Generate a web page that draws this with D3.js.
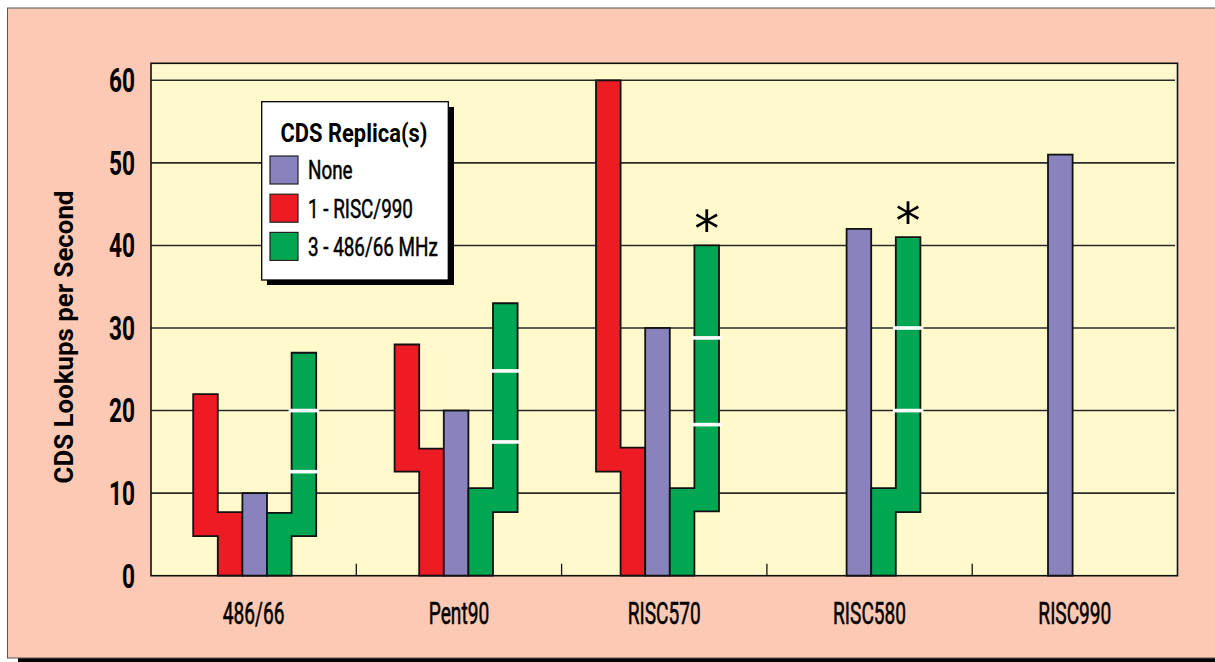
<!DOCTYPE html>
<html>
<head>
<meta charset="utf-8">
<script src="https://cdn.jsdelivr.net/npm/d3@7"></script>
<style>
  html, body { margin: 0; padding: 0; background: #ffffff; }
  svg { display: block; }
</style>
</head>
<body>
<svg id="chart" width="1215" height="662"></svg>
<script>
// ---------------- data ----------------
const categories = ["486/66", "Pent90", "RISC570", "RISC580", "RISC990"];
const yTicks = [0, 10, 20, 30, 40, 50, 60];

// "None" (no replica) — single purple bar
const noneValues = [10, 20, 30, 42, 51];

// "1 - RISC/990" — stepped red shape: upper floating bar [low, high] and lower bar height
const riscUpperLow  = [4.8, 12.6, 12.6, null, null];
const riscUpperHigh = [22, 28, 60, null, null];
const riscLowerHigh = [7.7, 15.4, 15.5, null, null];

// "3 - 486/66 MHz" — stepped green shape
const tripleLowerHigh = [7.6, 10.6, 10.6, 10.6, null];
const tripleUpperLow  = [4.8, 7.7, 7.8, 7.7, null];
const tripleUpperHigh = [27, 33, 40, 41, null];
// white divider marks inside the upper green bar
const tripleMarks = [[12.6, 20], [16.2, 24.8], [18.3, 28.8], [20, 30], []];
// asterisk annotations
const asteriskFlags = [false, false, true, true, false];

const legendTitle = "CDS Replica(s)";
const legendLabels = ["None", "1 - RISC/990", "3 - 486/66 MHz"];
const yAxisTitle = "CDS Lookups per Second";

// ---------------- styles ----------------
const C = {
  page: "#fbc9b4",
  plot: "#fff9cc",
  none: "#8883bd",
  risc: "#ed1c24",
  triple: "#00a651",
  ink: "#111111",
  grid: "#2a2a2a"
};
const FONT = "Roboto, 'Open Sans', sans-serif";

const svg = d3.select("#chart");

function measure(str, size, weight) {
  const t = svg.append("text").attr("font-family", FONT).attr("font-size", size)
    .attr("font-weight", weight).text(str);
  const w = t.node().getComputedTextLength();
  t.remove();
  return w;
}
function ctext(parent, x, y, str, o) {
  const g = parent.append("g")
    .attr("transform", `translate(${x},${y})${o.rotate ? ` rotate(${o.rotate})` : ""} scale(${o.k},1)`);
  return g.append("text")
    .attr("font-family", FONT).attr("font-size", o.size).attr("font-weight", o.weight || "normal")
    .attr("text-anchor", o.anchor || "start")
    .attr("dy", o.dy || 0)
    .attr("fill", "#000")
    .attr("stroke", o.stroke ? "#000" : null)
    .attr("stroke-width", o.stroke || null)
    .text(str);
}

// outer frame with shadow
svg.append("rect").attr("x", 18).attr("y", 12).attr("width", 1215).attr("height", 650).attr("fill", "#000");
svg.append("rect").attr("x", 7.5).attr("y", 8).attr("width", 1215).attr("height", 650)
  .attr("fill", C.page).attr("stroke", "#555").attr("stroke-width", 1);

// plot area
const plot = { left: 151, right: 1177.5, top: 63.3, bottom: 575.7 };
const y = d3.scaleLinear().domain([0, 60]).range([575.7, 80.3]);
const xAxis = d3.scaleBand().domain(categories).range([plot.left, plot.right]);
const xGroup = d3.scaleBand().domain(categories).range([154, 1161]);
const slot = d3.scaleBand().domain([0, 1, 2, 3, 4]).range([-61.5, 61.5]);
const sx = (cat, i) => xGroup(cat) + xGroup.bandwidth() / 2 + slot(i);
const sw = slot.bandwidth();

svg.append("rect")
  .attr("x", plot.left).attr("y", plot.top)
  .attr("width", plot.right - plot.left).attr("height", plot.bottom - plot.top)
  .attr("fill", C.plot);

// gridlines
svg.append("g").selectAll("line").data(yTicks.filter(d => d > 0)).join("line")
  .attr("x1", plot.left).attr("x2", plot.right - 2.5)
  .attr("y1", d => y(d)).attr("y2", d => y(d))
  .attr("stroke", C.grid).attr("stroke-width", 1.6);

// category separator ticks (band boundaries)
svg.append("g").selectAll("line").data(categories.slice(1)).join("line")
  .attr("x1", d => xAxis(d)).attr("x2", d => xAxis(d))
  .attr("y1", plot.bottom).attr("y2", plot.bottom - 12)
  .attr("stroke", C.ink).attr("stroke-width", 1.3);

const bars = svg.append("g").attr("stroke", C.ink).attr("stroke-width", 1.8).attr("stroke-linejoin", "miter");

categories.forEach((cat, i) => {
  if (riscUpperHigh[i] != null) {
    const x0 = sx(cat, 0), x1 = sx(cat, 1), x2 = x1 + sw;
    const p = d3.path();
    p.moveTo(x0, y(riscUpperHigh[i]));
    p.lineTo(x1, y(riscUpperHigh[i]));
    p.lineTo(x1, y(riscLowerHigh[i]));
    p.lineTo(x2, y(riscLowerHigh[i]));
    p.lineTo(x2, y(0));
    p.lineTo(x1, y(0));
    p.lineTo(x1, y(riscUpperLow[i]));
    p.lineTo(x0, y(riscUpperLow[i]));
    p.closePath();
    bars.append("path").attr("d", p.toString()).attr("fill", C.risc);
  }
  if (noneValues[i] != null) {
    bars.append("rect")
      .attr("x", sx(cat, 2)).attr("width", sw)
      .attr("y", y(noneValues[i])).attr("height", y(0) - y(noneValues[i]))
      .attr("fill", C.none);
  }
  if (tripleUpperHigh[i] != null) {
    const x3 = sx(cat, 3), x4 = sx(cat, 4), x5 = x4 + sw;
    const p = d3.path();
    p.moveTo(x3, y(tripleLowerHigh[i]));
    p.lineTo(x4, y(tripleLowerHigh[i]));
    p.lineTo(x4, y(tripleUpperHigh[i]));
    p.lineTo(x5, y(tripleUpperHigh[i]));
    p.lineTo(x5, y(tripleUpperLow[i]));
    p.lineTo(x4, y(tripleUpperLow[i]));
    p.lineTo(x4, y(0));
    p.lineTo(x3, y(0));
    p.closePath();
    bars.append("path").attr("d", p.toString()).attr("fill", C.triple);

    tripleMarks[i].forEach(v => {
      svg.append("rect")
        .attr("x", x4 - 3).attr("width", sw + 6)
        .attr("y", y(v) - 1.8).attr("height", 3.6)
        .attr("fill", "#ffffff");
    });
    if (asteriskFlags[i]) {
      svg.append("text")
        .attr("x", x4 + sw / 2).attr("y", y(tripleUpperHigh[i]) + 1)
        .attr("text-anchor", "middle")
        .attr("font-family", "DejaVu Sans, sans-serif")
        .attr("font-size", 50)
        .attr("fill", "#000")
        .text("*");
    }
  }
});

// plot border
svg.append("rect")
  .attr("x", plot.left).attr("y", plot.top)
  .attr("width", plot.right - plot.left).attr("height", plot.bottom - plot.top)
  .attr("fill", "none").attr("stroke", C.ink).attr("stroke-width", 1.6);

// text styles (size chosen for cap height; k squeezes to the condensed look)
const tickStyle = { size: 33, weight: "bold", anchor: "end", dy: "0.36em" };
tickStyle.k = 26 / measure("60", tickStyle.size, tickStyle.weight);
const catStyle = { size: 32, weight: "normal", anchor: "middle", stroke: 0.6 };
catStyle.k = 73 / measure("RISC570", catStyle.size, catStyle.weight);
const yTitleStyle = { size: 25, weight: "bold", anchor: "middle", rotate: -90 };
yTitleStyle.k = 293 / measure(yAxisTitle, yTitleStyle.size, yTitleStyle.weight);
const legTitleStyle = { size: 25, weight: "bold", anchor: "middle" };
legTitleStyle.k = 147 / measure(legendTitle, legTitleStyle.size, legTitleStyle.weight);
const legStyle = { size: 25, weight: "normal", anchor: "start", stroke: 0.5 };
legStyle.k = 130 / measure(legendLabels[2], legStyle.size, legStyle.weight);

// y tick labels
const tg = svg.append("g");
yTicks.forEach(d => ctext(tg, 135, y(d), d, tickStyle));

// category labels
const cg = svg.append("g");
categories.forEach(d => ctext(cg, xAxis(d) + xAxis.bandwidth() / 2, 623.5, d, catStyle));

// y axis title
ctext(svg, 73, 337, yAxisTitle, yTitleStyle);

// legend
const lg = svg.append("g");
lg.append("rect").attr("x", 267).attr("y", 107).attr("width", 187).attr("height", 178).attr("fill", "#000");
lg.append("rect").attr("x", 261.7).attr("y", 101.7).attr("width", 186.6).attr("height", 178.3)
  .attr("fill", "#fff").attr("stroke", "#000").attr("stroke-width", 1.3);
ctext(lg, 354, 141.7, legendTitle, legTitleStyle);
const legendColors = [C.none, C.risc, C.triple];
legendLabels.forEach((lab, i) => {
  const yy = 156 + i * 38.2;
  lg.append("rect").attr("x", 270).attr("y", yy).attr("width", 28).attr("height", 28)
    .attr("fill", legendColors[i]).attr("stroke", "#222").attr("stroke-width", 1.2);
  ctext(lg, 308, yy + 23.3, lab, legStyle);
});
</script>
</body>
</html>
